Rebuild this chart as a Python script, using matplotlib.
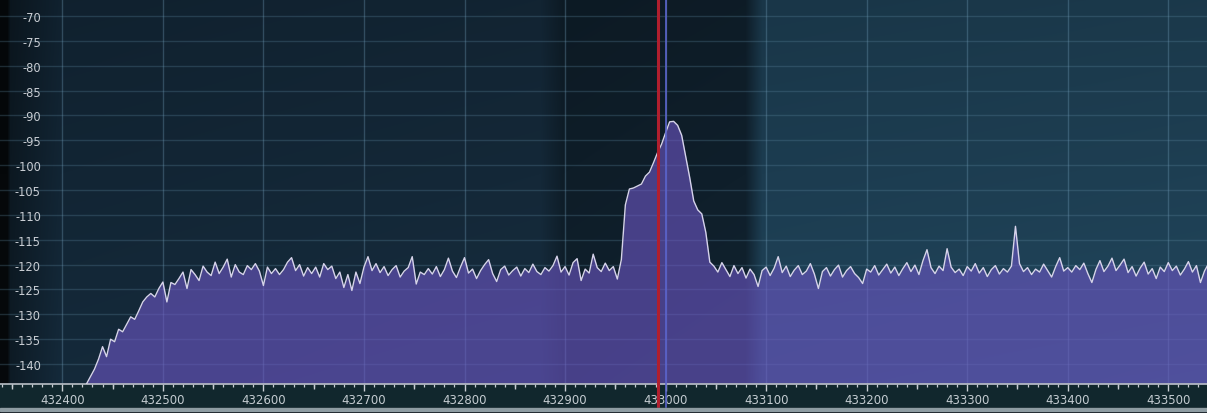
import numpy as np
import matplotlib
matplotlib.use("Agg")
import matplotlib.pyplot as plt
from matplotlib.patches import Rectangle

# ---- spectrum data -------------------------------------------------------
freq_start_hz = 432424
freq_step_hz = 4
level_db = [
    -144, -142.5, -141, -139, -136.5, -138.5, -135, -135.5, -133, -133.5,
    -132, -130.5, -131, -129.3, -127.5, -126.5, -125.8, -126.5, -124.8, -123.5,
    -127.5, -123.6, -124, -122.8, -121.5, -124.8, -121, -122, -123.2, -120.3,
    -121.5, -122.2, -119.5, -121.8, -120.5, -118.9, -122.5, -120, -121.5, -122,
    -120.2, -121, -119.8, -121.3, -124.2, -120.5, -121.8, -120.8, -122, -121,
    -119.5, -118.6, -121.2, -120, -122.3, -120.6, -121.8, -120.5, -122.5, -119.8,
    -121, -120.3, -122.8, -121.5, -124.6, -122, -125.2, -121.5, -123.8, -120.5,
    -118.4, -121.2, -119.8, -121.6, -120.4, -122.2, -121, -120.2, -122.5, -121.3,
    -120.6, -118.4, -123.9, -121.5, -122, -120.8, -121.9, -120.4, -122.4, -121,
    -118.7, -121.3, -122.6, -120.5, -118.6, -121.7, -120.9, -122.8, -121.2, -120,
    -119, -121.8, -123.4, -121, -120.3, -122.1, -121.2, -120.5, -122.3, -120.8,
    -121.6, -119.9, -121.4, -122, -120.6, -121.3, -120.2, -118.3, -121.5, -120.4,
    -122.1, -119.6, -118.8, -123.2, -120.9, -121.7, -117.9, -120.6, -121.4, -119.7,
    -121.2, -120.4, -122.9, -119, -108, -104.8, -104.6, -104.2, -103.8, -102.2,
    -101.4, -99.5, -97.5, -95.8, -93.5, -91.3, -91.2, -92, -94, -98.2,
    -102.5, -107.2, -109, -109.8, -113.5, -119.5, -120.3, -121.5, -119.6, -121,
    -122.4, -120.2, -121.8, -120.6, -122.7, -120.9, -122, -124.4, -121.2, -120.5,
    -122.2, -120.7, -118.4, -121.6, -120.3, -122.4, -121.1, -120.2, -122, -121.3,
    -119.8, -121.9, -124.8, -121.4, -120.6, -122.3, -121, -120.1, -122.5, -121.2,
    -120.4, -121.8, -122.6, -123.8, -120.9, -121.5, -120.2, -122.1, -121, -119.9,
    -121.7, -120.5, -122.2, -120.8, -119.6, -121.4, -120.1, -122, -119.2, -117,
    -120.6, -121.8, -120.3, -121.2, -116.8, -120.5, -121.6, -120.9, -122.2, -120.4,
    -121.3, -119.8, -121.7, -120.6, -122.4, -121, -120.2, -121.9, -120.8, -121.5,
    -120.3, -112.3, -119.8, -121.4, -120.6, -122, -120.9, -121.5, -119.9, -121.2,
    -122.5, -120.4, -118.6, -121.3, -120.6, -121.5, -120.2, -121, -119.7, -121.8,
    -123.6, -121, -119.2, -121.4, -120.3, -118.7, -121.2, -120.1, -118.9, -121.6,
    -120.4, -122.3, -120.7, -119.5, -121.9, -120.8, -122.8, -120.5, -121.4, -119.6,
    -121.2, -120.3, -122.1, -120.9, -119.4, -121.5, -120.2, -123.6, -121.3, -119.8,
    -124,
]
freq_hz = freq_start_hz + freq_step_hz * np.arange(len(level_db))

x_ticks = [432400, 432500, 432600, 432700, 432800, 432900,
           433000, 433100, 433200, 433300, 433400, 433500]
x_tick_labels = ["432400", "432500", "432600", "432700", "432800", "432900",
                 "433000", "433100", "433200", "433300", "433400", "433500"]
y_ticks = [-70, -75, -80, -85, -90, -95, -100, -105,
           -110, -115, -120, -125, -130, -135, -140]
y_tick_labels = ["-70", "-75", "-80", "-85", "-90", "-95", "-100", "-105",
                 "-110", "-115", "-120", "-125", "-130", "-135", "-140"]

tuned_freq_hz = 432992
center_freq_hz = 433000

# ---- figure layout --------------------------------------------------------
W, H = 1207, 414
plot_top_px, plot_bottom_px = 0, 385
x_min, x_max = 432338.0, 433538.5
y_min, y_max = -144.0, -66.6

strip_color = "#11272d"
fig = plt.figure(figsize=(W / 100, H / 100), dpi=100, facecolor=strip_color)
ax = fig.add_axes([0, (H - plot_bottom_px) / H, 1, (plot_bottom_px - plot_top_px) / H])
ax.set_xlim(x_min, x_max)
ax.set_ylim(y_min, y_max)

# background shading of the spectrum pane (darker band around the filter)
n_rows = plot_bottom_px - plot_top_px
cols = np.arange(W)
stops = [0, 7, 10, 60, 540, 563, 745, 762, W - 1]
rgb_stops = np.array([
    (5, 8, 10), (5, 8, 10), (12, 24, 33), (18, 37, 52), (20, 40, 56),
    (14, 29, 40), (15, 31, 43), (28, 60, 80), (30, 63, 83)]) / 255.0
profile = np.stack([np.interp(cols, stops, rgb_stops[:, k]) for k in range(3)], axis=-1)
shade = np.linspace(0.9, 1.12, n_rows)[:, None, None]
bg = np.clip(profile[None, :, :] * shade, 0, 1)
ax.imshow(bg, extent=[x_min, x_max, y_min, y_max], aspect="auto",
          origin="upper", zorder=0, interpolation="bilinear")

# grid
for yv in y_ticks:
    ax.axhline(yv, color="#5f8aa3", alpha=0.28, lw=1.0, zorder=1)
for xv in x_ticks:
    ax.axvline(xv, color="#6f9ab5", alpha=0.35, lw=1.0, zorder=1)

# spectrum fill and trace
ax.fill_between(freq_hz, level_db, y_min, color=(0.43, 0.34, 0.78),
                alpha=0.6, lw=0, zorder=2)
ax.plot(freq_hz, level_db, color="#d6d3ea", lw=1.0, zorder=4)

# tuning markers, running down through the scale strip
ax.axvline(tuned_freq_hz, ymin=-0.075, ymax=1, color="#b11f2e", lw=2.2,
           clip_on=False, zorder=6)
ax.axvline(center_freq_hz, ymin=-0.075, ymax=1, color="#5a64cc", lw=1.2,
           clip_on=False, zorder=5)

# axes styling
for side in ("top", "right", "left"):
    ax.spines[side].set_visible(False)
ax.spines["bottom"].set_color("#b9bfc6")
ax.spines["bottom"].set_linewidth(1.2)
ax.set_facecolor("none")

ax.set_xticks(x_ticks)
ax.set_xticklabels(x_tick_labels)
ax.set_xticks(np.arange(432340, 433540, 10), minor=True)
ax.tick_params(axis="x", which="major", direction="out", length=5.0, width=1.0,
               color="#c8ccd2", pad=1.5, labelsize=8.5, labelcolor="#c4ccd1")
ax.tick_params(axis="x", which="minor", direction="out", length=2.4, width=0.9,
               color="#c8ccd2")

# medium ticks halfway between the labelled ones
half_ticks = [t + 50 for t in x_ticks if t + 50 < x_max] + [x_ticks[0] - 50]
sec = ax.secondary_xaxis("bottom")
sec.spines["bottom"].set_visible(False)
sec.set_xticks(half_ticks)
sec.set_xticklabels([""] * len(half_ticks))
sec.tick_params(axis="x", direction="out", length=3.8, width=1.0, color="#c8ccd2")

ax.set_yticks(y_ticks)
ax.set_yticklabels(y_tick_labels)
ax.tick_params(axis="y", which="both", length=0, pad=-29.5, labelsize=8.3,
               labelcolor="#c8cdd3")
for lbl in ax.get_yticklabels():
    lbl.set_horizontalalignment("right")

# frame line at the very bottom
fig.add_artist(Rectangle((0, 0), 1, 5 / H, transform=fig.transFigure,
                         color="#0c141a", zorder=10))
fig.add_artist(Rectangle((0, 2 / H), 1, 3 / H, transform=fig.transFigure,
                         color="#8e9ca2", zorder=11))

fig.savefig("out.png", dpi=100, facecolor=fig.get_facecolor())
